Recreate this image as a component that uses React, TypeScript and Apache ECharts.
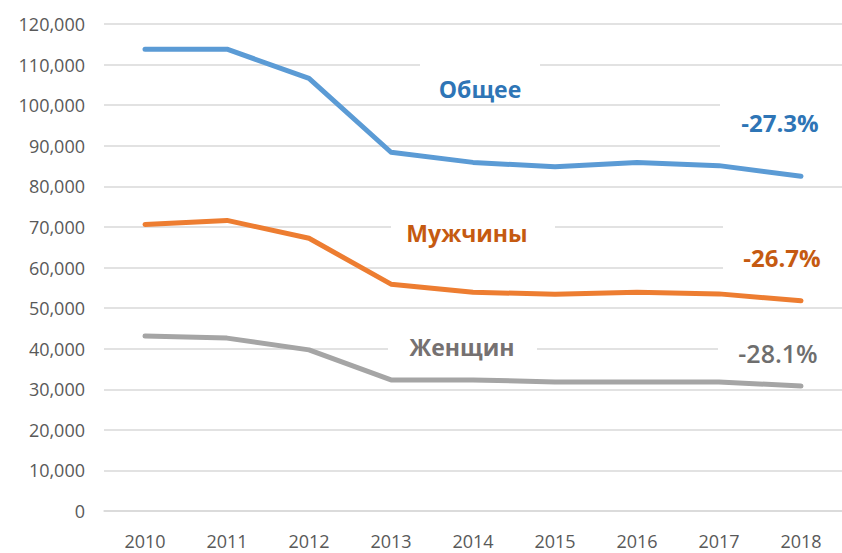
import React, { useEffect, useRef } from "react";
import * as echarts from "echarts";

const years = ["2010", "2011", "2012", "2013", "2014", "2015", "2016", "2017", "2018"];
const totalValues = [113800, 113800, 106600, 88400, 85900, 84800, 85900, 85100, 82500];
const menValues = [70600, 71600, 67200, 55900, 53900, 53400, 53900, 53500, 51800];
const womenValues = [43100, 42600, 39700, 32300, 32300, 31800, 31800, 31800, 30800];

const seriesNames = ["Общее", "Мужчины", "Женщин"];
const changeLabels = ["-27.3%", "-26.7%", "-28.1%"];

const lineColors = ["#5B9BD5", "#ED7D31", "#A5A5A5"];
const textColors = ["#2E75B6", "#C55A11", "#767171"];

const FONT = "'Open Sans', 'Noto Sans', sans-serif";

export default function App() {
  const ref = useRef<HTMLDivElement>(null);

  useEffect(() => {
    if (!ref.current) return;
    const chart = echarts.init(ref.current, null, { renderer: "svg" });

    const mkSeries = (name: string, data: number[], color: string) => ({
      name,
      type: "line",
      data,
      symbol: "none",
      z: 5,
      lineStyle: { color, width: 5, cap: "round", join: "round" },
      itemStyle: { color },
    });

    const box = (x: number, y: number, w: number, h: number) => ({
      type: "rect",
      z: 1,
      shape: { x, y, width: w, height: h },
      style: { fill: "#FFFFFF" },
      silent: true,
    });

    const label = (
      text: string,
      x: number,
      y: number,
      color: string,
      size: number,
      weight: string
    ) => ({
      type: "text",
      z: 10,
      x,
      y,
      style: {
        text,
        fill: color,
        font: `${weight} ${size}px ${FONT}`,
        textAlign: "center",
        textVerticalAlign: "middle",
      },
      silent: true,
    });

    chart.setOption({
      animation: false,
      backgroundColor: "#FFFFFF",
      grid: { left: 104, right: -9, top: 24, bottom: 42, containLabel: false },
      xAxis: {
        type: "category",
        data: years,
        boundaryGap: true,
        axisLine: { show: true, lineStyle: { color: "#D9D9D9", width: 1.5 } },
        axisTick: { show: false },
        axisLabel: { color: "#595959", fontSize: 18, fontFamily: FONT, margin: 21 },
        splitLine: { show: false },
      },
      yAxis: {
        type: "value",
        min: 0,
        max: 120000,
        interval: 10000,
        axisLine: { show: false },
        axisTick: { show: false },
        axisLabel: {
          color: "#595959",
          fontSize: 18,
          fontFamily: FONT,
          margin: 19,
          formatter: (v: number) => v.toLocaleString("en-US"),
        },
        splitLine: { show: true, lineStyle: { color: "#D9D9D9", width: 1.5 } },
      },
      series: [
        mkSeries(seriesNames[0], totalValues, lineColors[0]),
        mkSeries(seriesNames[1], menValues, lineColors[1]),
        mkSeries(seriesNames[2], womenValues, lineColors[2]),
      ],
      graphic: [
        box(420, 58, 120, 42),
        box(720, 92, 122, 64),
        box(391, 212, 164, 38),
        box(723, 214, 119, 66),
        box(388, 330, 149, 36),
        box(718, 334, 124, 38),
        label(seriesNames[0], 480, 89, textColors[0], 23, "bold"),
        label(changeLabels[0], 780, 122, textColors[0], 24, "bold"),
        label(seriesNames[1], 467, 233, textColors[1], 23, "bold"),
        label(changeLabels[1], 782, 257, textColors[1], 24, "bold"),
        label(seriesNames[2], 462, 347, textColors[2], 23, "bold"),
        label(changeLabels[2], 778, 353, "#6E6E6E", 25, "600"),
      ],
    });

    return () => chart.dispose();
  }, []);

  return (
    <div
      ref={ref}
      style={{ position: "fixed", left: 0, top: 0, width: 842, height: 553 }}
    />
  );
}
